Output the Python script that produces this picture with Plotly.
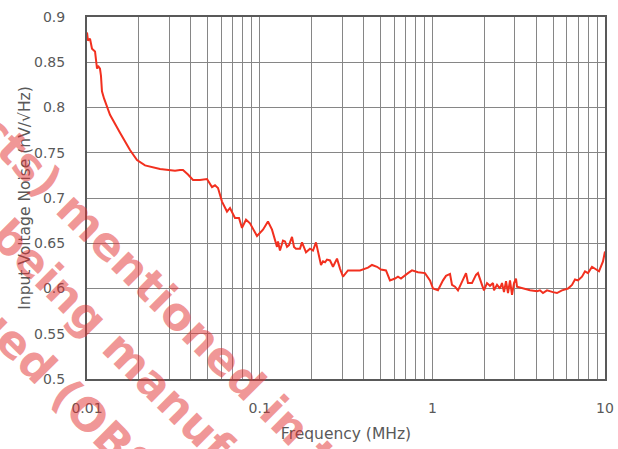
import plotly.graph_objects as go

# Frequency (MHz) and input voltage noise (nV/sqrt(Hz))
freq_mhz = [
    0.0100, 0.01013, 0.01041, 0.01069, 0.01113, 0.01127, 0.01143, 0.01158, 0.01189, 0.01205,
    0.01221, 0.01255, 0.01359, 0.01553, 0.01774, 0.01948, 0.02168, 0.02648, 0.03234, 0.03456,
    0.03597, 0.03845, 0.04111, 0.04511, 0.04823, 0.04954, 0.05296, 0.05512, 0.05737, 0.06051,
    0.06469, 0.06733, 0.07195, 0.07590, 0.07900, 0.08333, 0.08790, 0.09651, 0.1045, 0.1117,
    0.1179, 0.1227, 0.1260, 0.1277, 0.1311, 0.1365, 0.1402, 0.1440, 0.1479, 0.1539,
    0.1581, 0.1623, 0.1712, 0.1759, 0.1855, 0.1956, 0.2036, 0.2119, 0.2206, 0.2266,
    0.2327, 0.2390, 0.2454, 0.2555, 0.2659, 0.2805, 0.2919, 0.3038, 0.3247, 0.3566,
    0.3811, 0.4240, 0.4473, 0.4781, 0.5043, 0.5390, 0.5685, 0.6076, 0.6324, 0.6582,
    0.6943, 0.7227, 0.7623, 0.8259, 0.9065, 0.9690, 1.009, 1.078, 1.153, 1.200,
    1.232, 1.266, 1.300, 1.353, 1.408, 1.485, 1.546, 1.567, 1.609, 1.697,
    1.790, 1.838, 1.939, 1.991, 2.073, 2.157, 2.246, 2.276, 2.369, 2.465,
    2.532, 2.601, 2.671, 2.743, 2.817, 2.894, 2.972, 3.052, 3.093, 3.219,
    3.678, 4.037, 4.202, 4.373, 4.613, 4.997, 5.271, 5.634, 6.106, 6.439,
    6.702, 6.976, 7.359, 7.659, 7.972, 8.409, 8.869, 9.231, 9.735, 10.0,
]
noise_nv = [
    0.883, 0.874, 0.876, 0.865, 0.862, 0.850, 0.843, 0.846, 0.843, 0.835,
    0.818, 0.810, 0.792, 0.772, 0.753, 0.742, 0.736, 0.732, 0.730, 0.731,
    0.731, 0.726, 0.720, 0.720, 0.721, 0.721, 0.712, 0.714, 0.711, 0.696,
    0.685, 0.689, 0.678, 0.678, 0.667, 0.676, 0.672, 0.658, 0.665, 0.674,
    0.665, 0.655, 0.646, 0.652, 0.642, 0.653, 0.652, 0.646, 0.648, 0.657,
    0.646, 0.644, 0.644, 0.651, 0.640, 0.644, 0.642, 0.651, 0.635, 0.626,
    0.630, 0.629, 0.632, 0.631, 0.624, 0.633, 0.622, 0.613, 0.620, 0.620,
    0.620, 0.623, 0.626, 0.624, 0.621, 0.620, 0.609, 0.611, 0.613, 0.611,
    0.615, 0.617, 0.620, 0.618, 0.617, 0.609, 0.600, 0.598, 0.609, 0.614,
    0.615, 0.616, 0.604, 0.602, 0.598, 0.608, 0.615, 0.617, 0.606, 0.606,
    0.615, 0.617, 0.604, 0.598, 0.606, 0.603, 0.606, 0.598, 0.604, 0.600,
    0.606, 0.596, 0.608, 0.595, 0.609, 0.593, 0.606, 0.611, 0.602, 0.601,
    0.598, 0.597, 0.598, 0.595, 0.598, 0.596, 0.595, 0.598, 0.600, 0.604,
    0.610, 0.609, 0.613, 0.619, 0.617, 0.624, 0.621, 0.619, 0.630, 0.641,
]

x_tick_vals = [0.01, 0.02, 0.03, 0.04, 0.05, 0.06, 0.07, 0.08, 0.09,
               0.1, 0.2, 0.3, 0.4, 0.5, 0.6, 0.7, 0.8, 0.9,
               1, 2, 3, 4, 5, 6, 7, 8, 9, 10]
x_tick_text = ["0.01", "", "", "", "", "", "", "", "",
               "0.1", "", "", "", "", "", "", "", "",
               "1", "", "", "", "", "", "", "", "", "10"]
y_tick_vals = [0.5, 0.55, 0.6, 0.65, 0.7, 0.75, 0.8, 0.85, 0.9]
y_tick_text = ["0.5", "0.55", "0.6", "0.65", "0.7", "0.75", "0.8", "0.85", "0.9"]

watermark_lines = [
    "(Products) mentioned in this",
    "no longer being manufactured",
    "discontinued (OBSOLETE)",
]

TEXT = "#595959"
GRID = "#868686"

fig = go.Figure()
fig.add_trace(go.Scatter(
    x=freq_mhz, y=noise_nv, mode="lines",
    line=dict(color="#f2301f", width=2),
    showlegend=False, hoverinfo="skip",
))

fig.update_layout(
    width=618, height=449,
    margin=dict(l=87, r=13, t=17, b=70, autoexpand=False),
    paper_bgcolor="white", plot_bgcolor="white",
    font=dict(family="DejaVu Sans", color=TEXT, size=14),
    xaxis=dict(
        type="log", range=[-2, 1], automargin=False,
        tickmode="array", tickvals=x_tick_vals, ticktext=x_tick_text,
        showgrid=True, gridcolor=GRID, gridwidth=1,
        showline=True, linecolor=TEXT, linewidth=2, mirror=True,
        ticks="", ticklabelstandoff=15, zeroline=False,
        tickfont=dict(size=14, color=TEXT),
        title=dict(text="Frequency (MHz)", font=dict(size=15.5, color=TEXT), standoff=13),
    ),
    yaxis=dict(
        range=[0.5, 0.9], automargin=False,
        tickmode="array", tickvals=y_tick_vals, ticktext=y_tick_text,
        showgrid=True, gridcolor=GRID, gridwidth=1,
        showline=True, linecolor=TEXT, linewidth=2, mirror=True,
        ticks="", ticklabelstandoff=17, zeroline=False,
        tickfont=dict(size=14, color=TEXT),
        title=dict(text="Input Voltage Noise (nV/√Hz)", font=dict(size=15.5, color=TEXT), standoff=0),
    ),
)

wm_centers = [(123, 258), (90, 318), (46, 373)]
for txt, (cx, cy) in zip(watermark_lines, wm_centers):
    fig.add_annotation(
        text=txt, xref="paper", yref="paper",
        x=(cx - 87) / 518, y=(379 - cy) / 362,
        xanchor="center", yanchor="middle", showarrow=False,
        textangle=45,
        font=dict(family="DejaVu Sans", size=45, weight="bold", color="rgba(226,48,48,0.5)"),
    )

fig.write_html(
    "out.html",
    config={"displayModeBar": False},
    post_script="document.body.style.margin='0';document.body.style.overflow='hidden';",
)
